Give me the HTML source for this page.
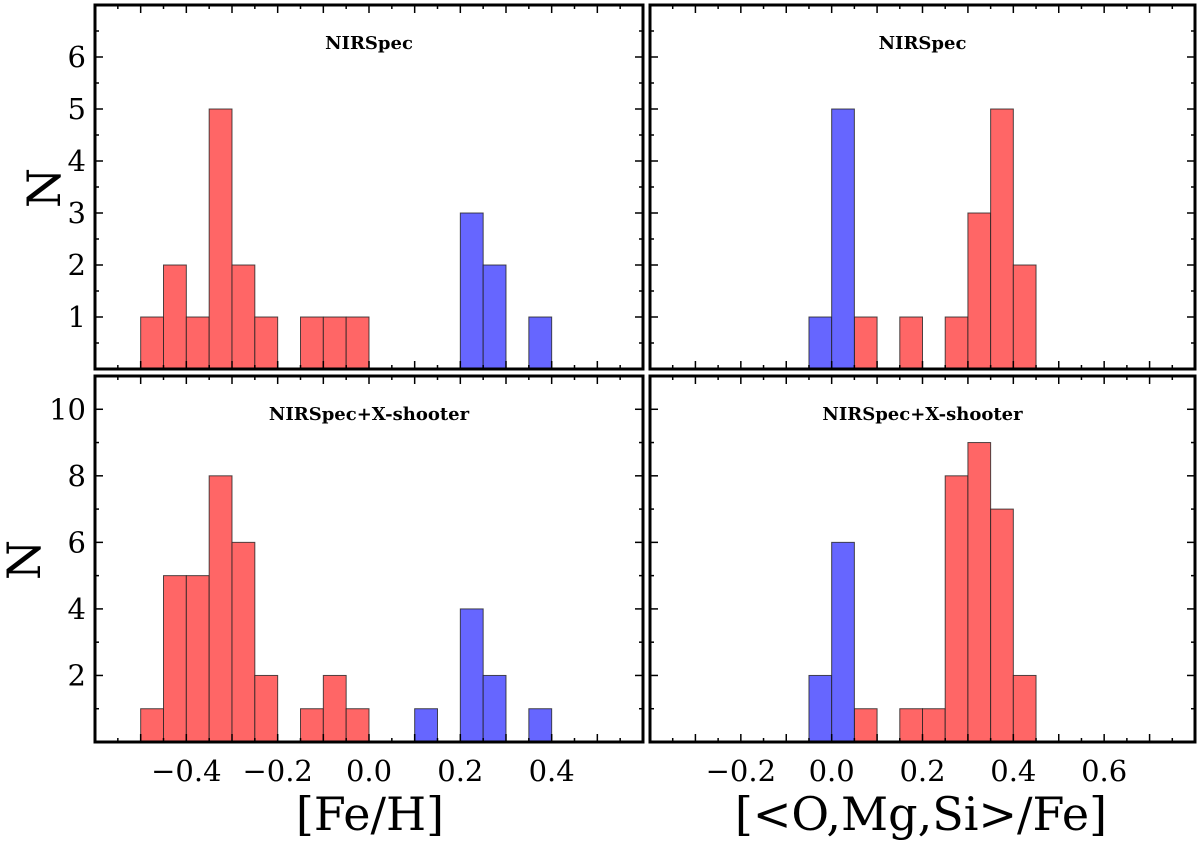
<!DOCTYPE html>
<html><head><meta charset="utf-8"><style>
html,body{margin:0;padding:0;background:#fff;}
svg{display:block;font-family:"DejaVu Serif","Liberation Serif",serif;}
</style></head><body>
<svg id="fig" width="1200" height="845" viewBox="0 0 1200 845"></svg>
<script>
// bin starts (left edges) and counts, bin width 0.05
const binWidth = 0.05;
const tlRedBins = [-0.5,-0.45,-0.4,-0.35,-0.3,-0.25,-0.15,-0.1,-0.05];
const tlRedCounts = [1,2,1,5,2,1,1,1,1];
const tlBlueBins = [0.2,0.25,0.35];
const tlBlueCounts = [3,2,1];
const blRedBins = [-0.5,-0.45,-0.4,-0.35,-0.3,-0.25,-0.15,-0.1,-0.05];
const blRedCounts = [1,5,5,8,6,2,1,2,1];
const blBlueBins = [0.1,0.2,0.25,0.35];
const blBlueCounts = [1,4,2,1];
const trBlueBins = [-0.05,0.0];
const trBlueCounts = [1,5];
const trRedBins = [0.05,0.15,0.25,0.3,0.35,0.4];
const trRedCounts = [1,1,1,3,5,2];
const brBlueBins = [-0.05,0.0];
const brBlueCounts = [2,6];
const brRedBins = [0.05,0.15,0.2,0.25,0.3,0.35,0.4];
const brRedCounts = [1,1,1,8,9,7,2];
const leftXTicks = [-0.4,-0.2,0.0,0.2,0.4];
const rightXTicks = [-0.2,0.0,0.2,0.4,0.6];
const topYTicks = [1,2,3,4,5,6];
const botYTicks = [2,4,6,8,10];

const NS="http://www.w3.org/2000/svg";
const svg=document.getElementById('fig');
function mk(tag,attrs,parent){const e=document.createElementNS(NS,tag);for(const k in attrs)e.setAttribute(k,attrs[k]);(parent||svg).appendChild(e);return e;}
function fmt(v){const s=Math.abs(v).toFixed(1);return (v<-1e-9?'\u2212':'')+s;}

function panel(name,x0,x1,y0,y1,xmin,xmax,ymax,series,title,xticks,yticks,yMinorStep,showX,showY){
  const g=mk('g',{});
  
  
  const sx=v=>x0+(v-xmin)/(xmax-xmin)*(x1-x0);
  const sy=v=>y1-v/ymax*(y1-y0);
  series.forEach(s=>{
    s.bins.forEach((b,i)=>{
      const r=mk('rect',{x:sx(b),y:sy(s.counts[i]),width:sx(b+binWidth)-sx(b),height:sy(0)-sy(s.counts[i]),fill:s.color,stroke:'#222','stroke-width':1,'stroke-opacity':0.8},g);
      
      
    });
  });
  for(let k=Math.ceil(xmin/0.05-1e-6);k*0.05<=xmax+1e-6;k++){
    const v=k*0.05, X=sx(v), major=(Math.abs(Math.round(k)%2)===0);
    const L=major?8:4;
    mk('line',{x1:X,x2:X,y1:y1,y2:y1-L,stroke:'#000','stroke-width':1.5},g);
    mk('line',{x1:X,x2:X,y1:y0,y2:y0+L,stroke:'#000','stroke-width':1.5},g);
  }
  for(let v=yMinorStep;v<ymax-1e-6;v+=yMinorStep){
    const Y=sy(v); const major=Math.abs(v-Math.round(v/ (yMinorStep*2))*(yMinorStep*2))<1e-6;
    const L=major?8:4;
    mk('line',{x1:x0,x2:x0+L,y1:Y,y2:Y,stroke:'#000','stroke-width':1.5},g);
    mk('line',{x1:x1,x2:x1-L,y1:Y,y2:Y,stroke:'#000','stroke-width':1.5},g);
  }
  mk('rect',{x:x0,y:y0,width:x1-x0,height:y1-y0,fill:'none',stroke:'#000','stroke-width':3},g);
  const t=mk('text',{x:(x0+x1)/2,y:y0+44,'text-anchor':'middle','font-size':18,'font-weight':'bold'},g);
  t.textContent=title;
  
  
  if(showY){
    yticks.forEach(v=>{
      const tt=mk('text',{x:x0-9,y:sy(v)+10,'text-anchor':'end','font-size':29},g);
      tt.textContent=String(v);
      
      
    });
  }
  if(showX){
    xticks.forEach(v=>{
      const tt=mk('text',{x:sx(v),y:y1+39,'text-anchor':'middle','font-size':29},g);
      tt.textContent=fmt(v);
      
      
    });
  }
}
const RED='#ff6666', BLUE='#6666ff';
panel('panel-feh-nirspec',95,643,5,369,-0.6,0.6,7,[{bins:tlRedBins,counts:tlRedCounts,color:RED,label:'red'},{bins:tlBlueBins,counts:tlBlueCounts,color:BLUE,label:'blue'}],'NIRSpec',leftXTicks,topYTicks,0.5,false,true);
panel('panel-alpha-nirspec',650,1195,5,369,-0.4,0.8,7,[{bins:trRedBins,counts:trRedCounts,color:RED,label:'red'},{bins:trBlueBins,counts:trBlueCounts,color:BLUE,label:'blue'}],'NIRSpec',rightXTicks,topYTicks,0.5,false,false);
panel('panel-feh-combined',95,643,376,742,-0.6,0.6,11,[{bins:blRedBins,counts:blRedCounts,color:RED,label:'red'},{bins:blBlueBins,counts:blBlueCounts,color:BLUE,label:'blue'}],'NIRSpec+X-shooter',leftXTicks,botYTicks,1,true,true);
panel('panel-alpha-combined',650,1195,376,742,-0.4,0.8,11,[{bins:brRedBins,counts:brRedCounts,color:RED,label:'red'},{bins:brBlueBins,counts:brBlueCounts,color:BLUE,label:'blue'}],'NIRSpec+X-shooter',rightXTicks,botYTicks,1,true,false);

let a=mk('text',{x:370,y:830,'text-anchor':'middle','font-size':46});a.textContent='[Fe/H]';

a=mk('text',{x:921,y:830,'text-anchor':'middle','font-size':46});a.textContent='[<O,Mg,Si>/Fe]';

a=mk('text',{x:0,y:0,'text-anchor':'middle','font-size':46,transform:'translate(60,188) rotate(-90)'});a.textContent='N';

a=mk('text',{x:0,y:0,'text-anchor':'middle','font-size':46,transform:'translate(40,560) rotate(-90)'});a.textContent='N';

</script>
</body></html>
